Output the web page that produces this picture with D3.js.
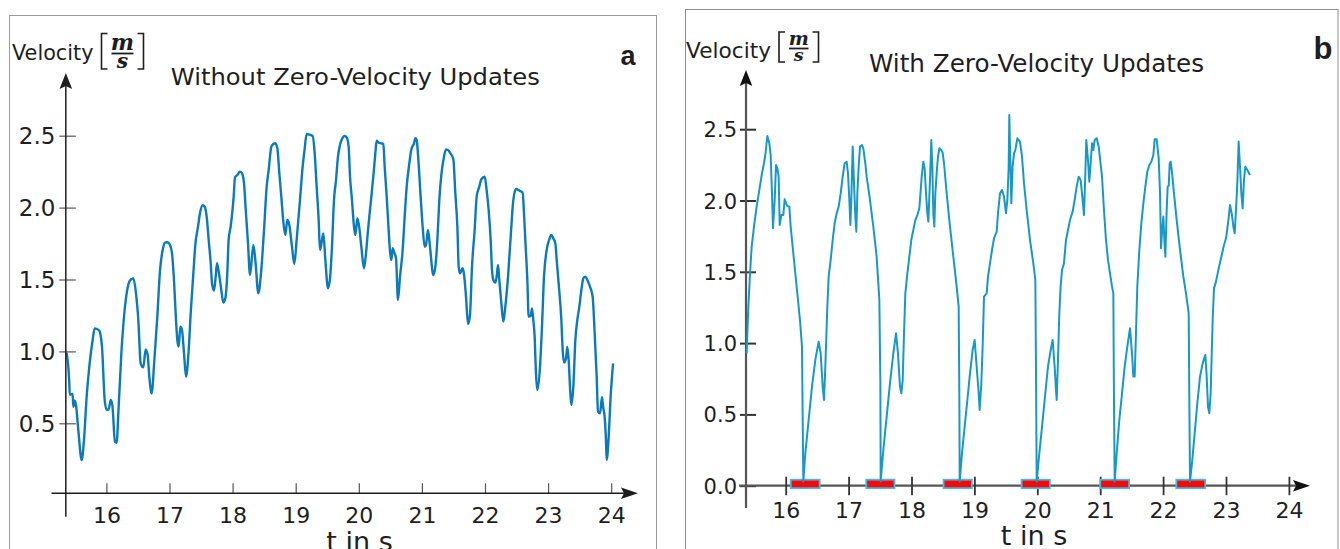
<!DOCTYPE html>
<html>
<head>
<meta charset="utf-8">
<script src="https://cdn.jsdelivr.net/npm/d3@7"></script>
<style>
  html, body { margin: 0; padding: 0; background: #fff; }
  svg { display: block; }
  text { font-family: "DejaVu Sans", Verdana, sans-serif; fill: #1e1e1e; }
</style>
</head>
<body>
<svg id="chart" width="1340" height="549"></svg>
<script>
// ---- Panel a: velocity integrated without zero-velocity updates ----
const timeA = [
  15.37, 15.41, 15.42, 15.465, 15.476, 15.497, 15.518, 15.555, 15.608, 15.645,
  15.687, 15.729, 15.782, 15.814, 15.856, 15.888, 15.93, 15.973, 16.004, 16.036,
  16.068, 16.094, 16.136, 16.163, 16.189, 16.237, 16.279, 16.321, 16.353, 16.395,
  16.427, 16.469, 16.506, 16.543, 16.585, 16.622, 16.654, 16.68, 16.717, 16.76,
  16.807, 16.85, 16.892, 16.929, 16.966, 17.008, 17.04, 17.071, 17.103, 17.124,
  17.145, 17.172, 17.198, 17.23, 17.262, 17.304, 17.336, 17.378, 17.409, 17.452,
  17.483, 17.526, 17.558, 17.589, 17.621, 17.653, 17.674, 17.705, 17.732, 17.753,
  17.784, 17.821, 17.853, 17.884, 17.916, 17.937, 17.969, 17.996, 18.017, 18.038,
  18.075, 18.117, 18.149, 18.181, 18.212, 18.244, 18.276, 18.329, 18.36, 18.408,
  18.45, 18.498, 18.54, 18.572, 18.614, 18.646, 18.677, 18.709, 18.741, 18.772,
  18.804, 18.836, 18.867, 18.899, 18.941, 18.978, 19.015, 19.068, 19.11, 19.137,
  19.174, 19.216, 19.269, 19.301, 19.332, 19.364, 19.385, 19.417, 19.438, 19.47,
  19.512, 19.544, 19.575, 19.607, 19.639, 19.67, 19.702, 19.734, 19.776, 19.808,
  19.839, 19.861, 19.892, 19.924, 19.945, 19.977, 20.009, 20.04, 20.082, 20.114,
  20.146, 20.188, 20.23, 20.262, 20.283, 20.315, 20.357, 20.389, 20.41, 20.442,
  20.473, 20.495, 20.516, 20.537, 20.558, 20.59, 20.621, 20.653, 20.695, 20.727,
  20.759, 20.801, 20.833, 20.875, 20.896, 20.917, 20.944, 20.98, 21.012, 21.044,
  21.065, 21.097, 21.128, 21.181, 21.213, 21.245, 21.276, 21.308, 21.35, 21.382,
  21.414, 21.445, 21.498, 21.53, 21.562, 21.583, 21.604, 21.625, 21.646, 21.667,
  21.699, 21.731, 21.762, 21.794, 21.836, 21.868, 21.91, 21.942, 21.995, 22.026,
  22.058, 22.09, 22.111, 22.132, 22.164, 22.185, 22.206, 22.227, 22.259, 22.291,
  22.322, 22.365, 22.407, 22.449, 22.491, 22.544, 22.597, 22.618, 22.639, 22.671,
  22.692, 22.724, 22.745, 22.766, 22.787, 22.808, 22.829, 22.872, 22.903, 22.935,
  22.977, 23.02, 23.051, 23.083, 23.115, 23.136, 23.167, 23.21, 23.231, 23.252,
  23.284, 23.305, 23.326, 23.347, 23.368, 23.4, 23.432, 23.463, 23.495, 23.527,
  23.558, 23.59, 23.622, 23.664, 23.706, 23.738, 23.77, 23.791, 23.822, 23.854,
  23.875, 23.896, 23.917, 23.928, 23.96, 23.991, 24.03
];
const velA = [
  0.99, 0.8, 0.7, 0.704, 0.615, 0.657, 0.627, 0.453, 0.244, 0.384,
  0.685, 0.894, 1.079, 1.16, 1.154, 1.144, 1.033, 0.662, 0.593, 0.597,
  0.662, 0.627, 0.372, 0.365, 0.569, 0.987, 1.241, 1.404, 1.473, 1.503,
  1.508, 1.404, 1.218, 0.917, 0.889, 1.014, 0.975, 0.824, 0.708, 0.94,
  1.241, 1.565, 1.705, 1.756, 1.759, 1.74, 1.682, 1.497, 1.218, 1.079,
  1.033, 1.172, 1.149, 0.987, 0.824, 1.009, 1.265, 1.543, 1.74, 1.868,
  1.96, 2.016, 2.006, 1.937, 1.775, 1.613, 1.473, 1.423, 1.52, 1.613,
  1.543, 1.427, 1.339, 1.368, 1.543, 1.775, 1.868, 1.972, 2.076, 2.211,
  2.227, 2.25, 2.238, 2.169, 1.96, 1.752, 1.532, 1.74, 1.636, 1.404,
  1.543, 1.844, 2.146, 2.262, 2.424, 2.442, 2.447, 2.412, 2.238, 2.076,
  1.902, 1.809, 1.914, 1.879, 1.728, 1.608, 1.775, 2.053, 2.285, 2.389,
  2.512, 2.507, 2.498, 2.377, 2.146, 1.914, 1.705, 1.775, 1.821, 1.636,
  1.439, 1.508, 1.728, 2.053, 2.192, 2.354, 2.435, 2.477, 2.498, 2.489,
  2.424, 2.215, 2.053, 1.867, 1.809, 1.926, 1.856, 1.728, 1.578, 1.682,
  1.844, 2.03, 2.215, 2.377, 2.465, 2.452, 2.447, 2.442, 2.285, 2.076,
  1.844, 1.693, 1.636, 1.717, 1.693, 1.647, 1.357, 1.52, 1.705, 1.937,
  2.146, 2.308, 2.405, 2.447, 2.482, 2.47, 2.331, 2.076, 1.867, 1.728,
  1.74, 1.844, 1.728, 1.531, 1.589, 1.775, 2.053, 2.227, 2.354, 2.405,
  2.401, 2.382, 2.336, 2.099, 1.867, 1.589, 1.543, 1.561, 1.578, 1.538,
  1.381, 1.191, 1.253, 1.589, 1.844, 2.076, 2.146, 2.197, 2.215, 2.122,
  1.983, 1.775, 1.566, 1.497, 1.478, 1.52, 1.601, 1.497, 1.334, 1.207,
  1.311, 1.52, 1.798, 2.053, 2.129, 2.118, 2.104, 1.96, 1.775, 1.497,
  1.242, 1.246, 1.299, 1.218, 1.102, 0.847, 0.732, 0.894, 1.172, 1.52,
  1.705, 1.779, 1.809, 1.786, 1.751, 1.636, 1.473, 1.218, 1.01, 0.922,
  0.952, 1.033, 0.94, 0.755, 0.627, 0.755, 1.079, 1.218, 1.311, 1.427,
  1.508, 1.52, 1.497, 1.45, 1.381, 1.126, 0.824, 0.581, 0.569, 0.681,
  0.604, 0.546, 0.384, 0.245, 0.407, 0.685, 0.917
];

// ---- Panel b: velocity with zero-velocity updates ----
const timeB = [
  15.379, 15.406, 15.433, 15.459, 15.496, 15.538, 15.581, 15.623, 15.655, 15.676,
  15.708, 15.74, 15.761, 15.782, 15.798, 15.825, 15.846, 15.867, 15.888, 15.904,
  15.931, 15.962, 15.984, 16.005, 16.026, 16.058, 16.079, 16.121, 16.174, 16.227,
  16.259, 16.28, 16.312, 16.365, 16.418, 16.471, 16.524, 16.556, 16.588, 16.609,
  16.63, 16.662, 16.683, 16.715, 16.747, 16.778, 16.81, 16.842, 16.874, 16.906,
  16.937, 16.969, 16.99, 17.012, 17.028, 17.043, 17.065, 17.086, 17.107, 17.123,
  17.139, 17.16, 17.181, 17.213, 17.234, 17.266, 17.287, 17.34, 17.393, 17.446,
  17.489, 17.505, 17.51, 17.552, 17.605, 17.658, 17.711, 17.754, 17.785, 17.817,
  17.838, 17.86, 17.881, 17.902, 17.934, 17.966, 17.997, 18.029, 18.061, 18.093,
  18.125, 18.162, 18.188, 18.209, 18.231, 18.252, 18.268, 18.294, 18.315, 18.331,
  18.347, 18.363, 18.379, 18.4, 18.421, 18.443, 18.474, 18.495, 18.517, 18.559,
  18.612, 18.665, 18.718, 18.75, 18.761, 18.766, 18.803, 18.845, 18.888, 18.93,
  18.972, 19.004, 19.036, 19.068, 19.084, 19.11, 19.131, 19.153, 19.195, 19.216,
  19.248, 19.28, 19.312, 19.354, 19.375, 19.407, 19.439, 19.471, 19.502, 19.524,
  19.545, 19.555, 19.566, 19.587, 19.608, 19.63, 19.651, 19.683, 19.725, 19.757,
  19.789, 19.831, 19.884, 19.937, 19.969, 19.979, 19.99, 20.022, 20.075, 20.117,
  20.17, 20.213, 20.244, 20.276, 20.297, 20.308, 20.329, 20.35, 20.371, 20.393,
  20.424, 20.456, 20.488, 20.52, 20.562, 20.594, 20.626, 20.658, 20.689, 20.721,
  20.742, 20.764, 20.779, 20.806, 20.827, 20.848, 20.87, 20.891, 20.912, 20.944,
  20.976, 21.029, 21.06, 21.092, 21.124, 21.156, 21.188, 21.209, 21.219, 21.23,
  21.262, 21.304, 21.347, 21.389, 21.431, 21.474, 21.506, 21.527, 21.548, 21.569,
  21.59, 21.622, 21.654, 21.686, 21.718, 21.749, 21.781, 21.813, 21.845, 21.866,
  21.898, 21.93, 21.951, 21.967, 21.982, 22.004, 22.02, 22.036, 22.057, 22.073,
  22.089, 22.105, 22.12, 22.141, 22.173, 22.216, 22.269, 22.322, 22.364, 22.407,
  22.417, 22.428, 22.459, 22.502, 22.544, 22.587, 22.629, 22.671, 22.693, 22.714,
  22.735, 22.756, 22.788, 22.809, 22.841, 22.884, 22.926, 22.968, 23.0, 23.032,
  23.064, 23.095, 23.117, 23.138, 23.159, 23.18, 23.201, 23.223, 23.244, 23.265,
  23.286, 23.307, 23.339, 23.381
];
const velB = [
  0.928, 1.256, 1.489, 1.676, 1.817, 1.957, 2.074, 2.191, 2.261, 2.319,
  2.452, 2.401, 2.319, 2.05, 1.805, 2.004, 2.249, 2.226, 2.167, 1.828,
  1.898, 1.898, 2.008, 1.98, 1.961, 1.957, 1.817, 1.63, 1.396, 1.162,
  0.975, 0.03, 0.227, 0.461, 0.695, 0.882, 1.01, 0.928, 0.695, 0.601,
  0.835, 1.256, 1.466, 1.583, 1.723, 1.84, 1.91, 1.957, 2.05, 2.167,
  2.261, 2.272, 2.191, 2.004, 1.828, 2.004, 2.378, 2.12, 1.887, 1.781,
  2.05, 2.237, 2.378, 2.389, 2.366, 2.261, 2.167, 2.004, 1.817, 1.606,
  1.302, 0.718, 0.03, 0.25, 0.484, 0.718, 0.928, 1.069, 0.928, 0.695,
  0.648, 0.741, 1.069, 1.349, 1.489, 1.606, 1.723, 1.793, 1.863, 1.898,
  1.945, 2.167, 2.272, 2.226, 2.05, 1.91, 1.852, 2.144, 2.424, 2.237,
  1.91, 1.817, 2.05, 2.191, 2.307, 2.366, 2.354, 2.336, 2.261, 2.05,
  1.817, 1.606, 1.396, 1.256, 0.601, 0.03, 0.227, 0.414, 0.601, 0.788,
  0.952, 1.022, 0.835, 0.648, 0.531, 0.718, 0.975, 1.326, 1.349, 1.466,
  1.559, 1.653, 1.735, 1.781, 1.91, 2.05, 2.074, 2.027, 1.91, 2.004,
  2.237, 2.6, 2.378, 1.98, 2.237, 2.331, 2.354, 2.436, 2.413, 2.307,
  2.12, 1.933, 1.723, 1.559, 1.442, 0.835, 0.03, 0.18, 0.414, 0.601,
  0.835, 0.952, 1.022, 0.835, 0.671, 0.601, 0.882, 1.209, 1.396, 1.513,
  1.559, 1.723, 1.793, 1.863, 1.922, 2.004, 2.097, 2.167, 2.144, 2.004,
  1.898, 2.191, 2.424, 2.284, 2.132, 2.261, 2.401, 2.354, 2.424, 2.436,
  2.378, 2.167, 1.933, 1.723, 1.583, 1.489, 1.396, 1.349, 0.601, 0.03,
  0.227, 0.461, 0.648, 0.835, 0.975, 1.104, 0.928, 0.765, 0.765, 1.069,
  1.396, 1.653, 1.84, 1.98, 2.097, 2.202, 2.249, 2.272, 2.319, 2.429,
  2.429, 2.296, 2.05, 1.665, 1.77, 1.887, 1.723, 1.606, 1.933, 2.097,
  2.102, 2.261, 2.272, 2.202, 2.05, 1.863, 1.653, 1.466, 1.349, 1.209,
  0.601, 0.03, 0.157, 0.367, 0.578, 0.765, 0.858, 0.917, 0.765, 0.554,
  0.508, 0.648, 1.162, 1.384, 1.431, 1.524, 1.606, 1.688, 1.735, 1.84,
  1.968, 1.898, 1.817, 1.77, 1.933, 2.12, 2.413, 2.237, 2.05, 1.945,
  2.144, 2.237, 2.214, 2.179
];
// detected stance phases (zero-velocity intervals), seconds
const standStart = [16.08, 17.28, 18.51, 19.75, 21.0, 22.21];
const standEnd   = [16.54, 17.73, 18.96, 20.2, 21.46, 22.67];

// axis ticks
const timeTicks = [16, 17, 18, 19, 20, 21, 22, 23, 24];
const velTicksA = [0.5, 1.0, 1.5, 2.0, 2.5];
const velTicksB = [0.0, 0.5, 1.0, 1.5, 2.0, 2.5];

const svg = d3.select("#chart");
const fmt = d3.format(".1f");

// ---------- helpers ----------
function frame(x, y, w, h, color) {
  svg.append("rect").attr("x", x).attr("y", y).attr("width", w).attr("height", h)
    .attr("fill", "none").attr("stroke", color).attr("stroke-width", 1);
}
function arrowUp(x, tipY, color) {
  svg.append("path")
    .attr("d", `M${x},${tipY} L${x - 6.3},${tipY + 16} L${x},${tipY + 13} L${x + 6.3},${tipY + 16} Z`)
    .attr("fill", color);
}
function arrowRight(tipX, y, color) {
  svg.append("path")
    .attr("d", `M${tipX},${y} L${tipX - 17},${y - 5.8} L${tipX - 14},${y} L${tipX - 17},${y + 5.8} Z`)
    .attr("fill", color);
}
function unitLabel(x, baseY, size, fracX, fracW, bracketTop, bracketBot, fracSize, lineY) {
  // "Velocity [m/s]"
  svg.append("text").attr("x", x).attr("y", baseY).attr("font-size", size)
    .attr("textLength", fracX - x - 18).attr("lengthAdjust", "spacingAndGlyphs").text("Velocity");
  const bl = fracX - 10, br = fracX + fracW + 10;
  svg.append("path").attr("d", `M${bl + 6},${bracketTop} H${bl} V${bracketBot} H${bl + 6}`)
    .attr("fill", "none").attr("stroke", "#1e1e1e").attr("stroke-width", 1.6);
  svg.append("path").attr("d", `M${br - 6},${bracketTop} H${br} V${bracketBot} H${br - 6}`)
    .attr("fill", "none").attr("stroke", "#1e1e1e").attr("stroke-width", 1.6);
  const cx = fracX + fracW / 2;
  svg.append("text").attr("x", cx).attr("y", lineY - 3.5).attr("text-anchor", "middle")
    .style("font-family", '"DejaVu Serif", serif').style("font-style", "italic").style("font-weight", "bold")
    .attr("font-size", fracSize).text("m");
  svg.append("line").attr("x1", fracX).attr("x2", fracX + fracW).attr("y1", lineY).attr("y2", lineY)
    .attr("stroke", "#1e1e1e").attr("stroke-width", 1.8);
  svg.append("text").attr("x", cx).attr("y", lineY + fracSize * 0.66).attr("text-anchor", "middle")
    .style("font-family", '"DejaVu Serif", serif').style("font-style", "italic").style("font-weight", "bold")
    .attr("font-size", fracSize * 0.92).text("s");
}

// =========================== Panel a ===========================
frame(9.5, 15.5, 647, 560, "#9a9a9a");

const xA = d3.scaleLinear().domain([16, 24]).range([106.4, 611.2]);
const yA = d3.scaleLinear().domain([0, 2.5]).range([495.2, 135.7]);
const axisXA = xA(15.357);   // vertical axis position
const axisYA = 493.3;        // horizontal axis position

// line
const lineA = d3.line().x((d, i) => xA(timeA[i])).y((d, i) => yA(velA[i])).curve(d3.curveMonotoneX);
svg.append("path").datum(velA).attr("d", lineA)
  .attr("fill", "none").attr("stroke", "#0a7abd").attr("stroke-width", 2.4)
  .attr("stroke-linejoin", "round");

// vertical axis
const gyA = svg.append("g").attr("transform", `translate(${axisXA},0)`)
  .call(d3.axisLeft(yA).tickValues(velTicksA).tickFormat(fmt).tickSize(6));
gyA.select(".domain").remove();
gyA.selectAll(".tick line").attr("x1", 10).attr("x2", -6.5).attr("stroke", "#555").attr("stroke-width", 1.2);
gyA.selectAll(".tick text").attr("x", -10.5).attr("dy", "0.36em")
  .attr("font-size", 23).attr("font-family", '"DejaVu Sans", sans-serif').attr("fill", "#1e1e1e");
svg.append("line").attr("x1", axisXA).attr("x2", axisXA).attr("y1", 516.7).attr("y2", 82)
  .attr("stroke", "#1e1e1e").attr("stroke-width", 1.5);
arrowUp(axisXA, 73, "#1e1e1e");

// horizontal axis
const gxA = svg.append("g").attr("transform", `translate(0,${axisYA})`)
  .call(d3.axisBottom(xA).tickValues(timeTicks).tickFormat(d3.format("d")).tickSize(10));
gxA.select(".domain").remove();
gxA.selectAll(".tick line").attr("y1", 0).attr("y2", -10).attr("stroke", "#555").attr("stroke-width", 1.2);
gxA.selectAll(".tick text").attr("y", 29.7).attr("dy", 0)
  .attr("font-size", 22).attr("font-family", '"DejaVu Sans", sans-serif').attr("fill", "#1e1e1e");
svg.append("line").attr("x1", 51.5).attr("x2", 628).attr("y1", axisYA).attr("y2", axisYA)
  .attr("stroke", "#1e1e1e").attr("stroke-width", 1.5);
arrowRight(638, axisYA, "#1e1e1e");

svg.append("text").attr("x", 359.5).attr("y", 551).attr("text-anchor", "middle")
  .attr("font-size", 27).text("t in s");

unitLabel(12, 60, 22, 111.5, 22, 33.5, 69, 22, 53.5);
svg.append("text").attr("x", 170.8).attr("y", 84.5).attr("font-size", 23)
  .attr("textLength", 369).attr("lengthAdjust", "spacingAndGlyphs")
  .text("Without Zero-Velocity Updates");
svg.append("text").attr("x", 620.5).attr("y", 64.5).attr("font-size", 27)
  .style("font-family", '"Liberation Sans", Arial, sans-serif').style("font-weight", "bold")
  .attr("fill", "#000").text("a");

// =========================== Panel b ===========================
frame(685.5, 9.5, 652.5, 560, "#8c8c8c");

const xB = d3.scaleLinear().domain([16, 24]).range([785.7, 1288.9]);
const yB = d3.scaleLinear().domain([0, 2.5]).range([485.7, 129.2]);
const axisXB = xB(15.369);
const axisYB = yB(0);

// vertical axis
const gyB = svg.append("g").attr("transform", `translate(${axisXB},0)`)
  .call(d3.axisLeft(yB).tickValues(velTicksB).tickFormat(fmt).tickSize(6));
gyB.select(".domain").remove();
gyB.selectAll(".tick line").attr("x1", 10).attr("x2", -6).attr("stroke", "#333").attr("stroke-width", 2);
gyB.selectAll(".tick text").attr("x", -9).attr("dy", "0.36em")
  .attr("font-size", 21).attr("font-family", '"DejaVu Sans", sans-serif').attr("fill", "#1e1e1e");
svg.append("line").attr("x1", axisXB).attr("x2", axisXB).attr("y1", 508).attr("y2", 80)
  .attr("stroke", "#555").attr("stroke-width", 2.2);
arrowUp(axisXB, 70, "#111");

// horizontal axis
svg.append("line").attr("x1", 739).attr("x2", 1298).attr("y1", axisYB).attr("y2", axisYB)
  .attr("stroke", "#555").attr("stroke-width", 2.2);
const gxB = svg.append("g").attr("transform", `translate(0,${axisYB})`)
  .call(d3.axisBottom(xB).tickValues(timeTicks).tickFormat(d3.format("d")).tickSize(9));
gxB.select(".domain").remove();
gxB.selectAll(".tick line").attr("y1", -9).attr("y2", 9.5).attr("stroke", "#333").attr("stroke-width", 1.8);
gxB.selectAll(".tick text").attr("y", 32.6).attr("dy", 0)
  .attr("font-size", 22).attr("font-family", '"DejaVu Sans", sans-serif').attr("fill", "#1e1e1e");
arrowRight(1310, axisYB, "#111");

// stance-phase markers on the time axis
svg.append("g").selectAll("rect").data(standStart).join("rect")
  .attr("x", (d) => xB(d))
  .attr("y", axisYB - 6)
  .attr("width", (d, i) => xB(standEnd[i]) - xB(d))
  .attr("height", 8.5)
  .attr("fill", "#f50a0a").attr("stroke", "#49b8e6").attr("stroke-width", 1.8);

// line
const softB = svg.append("defs").append("filter").attr("id", "softB")
  .attr("x", "-5%").attr("y", "-5%").attr("width", "110%").attr("height", "110%");
softB.append("feGaussianBlur").attr("stdDeviation", 0.35);
const lineB = d3.line().x((d, i) => xB(timeB[i])).y((d, i) => yB(velB[i]));
svg.append("path").datum(velB).attr("d", lineB)
  .attr("fill", "none").attr("stroke", "#1898c8").attr("stroke-width", 2)
  .attr("stroke-linejoin", "round").attr("filter", "url(#softB)");

svg.append("text").attr("x", 1034).attr("y", 545).attr("text-anchor", "middle")
  .attr("font-size", 27).text("t in s");

unitLabel(686, 57.5, 21, 789, 19.5, 32, 62, 19, 48.5);
svg.append("text").attr("x", 869).attr("y", 71.5).attr("font-size", 24.5)
  .attr("textLength", 335).attr("lengthAdjust", "spacingAndGlyphs")
  .text("With Zero-Velocity Updates");
svg.append("text").attr("x", 1313.5).attr("y", 58.5).attr("font-size", 31)
  .style("font-family", '"Liberation Sans", Arial, sans-serif').style("font-weight", "bold")
  .attr("fill", "#000").text("b");
</script>
</body>
</html>
